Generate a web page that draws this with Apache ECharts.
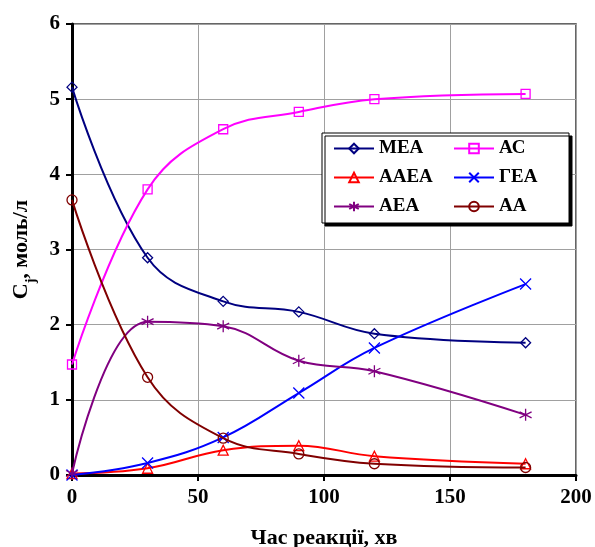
<!DOCTYPE html>
<html>
<head>
<meta charset="utf-8">
<script src="https://cdn.jsdelivr.net/npm/echarts@6/dist/echarts.min.js"></script>
<style>
  html, body { margin: 0; padding: 0; background: #fff; }
  #chart { width: 595px; height: 547px; }
</style>
</head>
<body>
<div id="chart"></div>
<script>
const time = [0, 30, 60, 90, 120, 180];

const mea = [5.16, 2.89, 2.31, 2.17, 1.88, 1.76];
const ac = [1.47, 3.80, 4.60, 4.83, 5.00, 5.07];
const aaea = [0.02, 0.09, 0.33, 0.39, 0.25, 0.15];
const gea = [0.00, 0.16, 0.50, 1.09, 1.69, 2.54];
const aea = [0.02, 2.04, 1.98, 1.52, 1.38, 0.80];
const aa = [3.66, 1.30, 0.49, 0.28, 0.15, 0.10];

const names = ['МЕА', 'АС', 'ААЕА', 'ГЕА', 'АЕА', 'АА'];
const colors = ['#000080', '#ff00ff', '#ff0000', '#0000ff', '#800080', '#800000'];

const crossPath = 'path://M0,0L10,10M10,0L0,10';
const starPath = 'path://M5,0L5,10M0.7,2.5L9.3,7.5M9.3,2.5L0.7,7.5';
const symbols = ['diamond', 'rect', 'triangle', crossPath, starPath, 'circle'];
const sizes = [10, 9, 10, 11, 12, 10];

const font = 'Liberation Serif';

const pairs = (ys) => time.map((t, i) => [t, ys[i]]);

const mkSeries = (name, ys, i) => ({
  name: name,
  type: 'line',
  data: pairs(ys),
  smooth: 0.4,
  symbol: symbols[i],
  symbolSize: sizes[i],
  color: colors[i],
  lineStyle: { color: colors[i], width: 2 },
  itemStyle: { color: 'rgba(255,255,255,0)', borderColor: colors[i], borderWidth: 1.3 },
  emphasis: { disabled: true },
  z: 3 + i,
});

const chart = echarts.init(document.getElementById('chart'));
chart.setOption({
  animation: false,
  backgroundColor: '#fff',
  grid: {
    left: 72,
    right: 19,
    top: 24,
    bottom: 72,
    show: true,
    borderColor: '#333',
    borderWidth: 1.5,
    containLabel: false,
    outerBoundsMode: 'none',
  },
  legend: {
    left: 322,
    top: 133,
    width: 260,
    padding: [6, 6, 7, 11],
    itemWidth: 40,
    itemHeight: 12,
    itemGap: 10,
    backgroundColor: '#fff',
    borderColor: '#000',
    borderWidth: 1,
    shadowColor: '#000',
    shadowBlur: 0,
    shadowOffsetX: 3,
    shadowOffsetY: 3,
    textStyle: {
      fontFamily: font,
      fontWeight: 'bold',
      fontSize: 19,
      color: '#000',
      width: 64,
      lineHeight: 18,
    },
    data: names,
  },
  xAxis: {
    type: 'value',
    min: 0,
    max: 200,
    interval: 50,
    name: 'Час реакції, хв',
    nameLocation: 'middle',
    nameGap: 52,
    nameTextStyle: { fontFamily: font, fontWeight: 'bold', fontSize: 22, color: '#000' },
    axisLine: { show: true, onZero: false, lineStyle: { color: '#000', width: 3 } },
    axisTick: { show: true, length: 6, lineStyle: { color: '#000', width: 2 } },
    axisLabel: { fontFamily: font, fontWeight: 'bold', fontSize: 21, color: '#000', margin: 12 },
    splitLine: { show: true, lineStyle: { color: '#a0a0a0', width: 1 } },
  },
  yAxis: {
    type: 'value',
    min: 0,
    max: 6,
    interval: 1,
    name: '{a|C}{b|j}{a|, моль/л}',
    nameLocation: 'middle',
    nameGap: 31,
    nameTextStyle: {
      color: '#000',
      rich: {
        a: { fontFamily: font, fontWeight: 'bold', fontSize: 22, color: '#000' },
        b: { fontFamily: font, fontWeight: 'bold', fontSize: 14, color: '#000', verticalAlign: 'bottom', padding: [0, 0, -6, 0] },
      },
    },
    axisLine: { show: true, lineStyle: { color: '#000', width: 3 } },
    axisTick: { show: true, length: 6, lineStyle: { color: '#000', width: 2 } },
    axisLabel: { fontFamily: font, fontWeight: 'bold', fontSize: 21, color: '#000', margin: 12 },
    splitLine: { show: true, lineStyle: { color: '#a0a0a0', width: 1 } },
  },
  series: [
    mkSeries(names[0], mea, 0),
    mkSeries(names[1], ac, 1),
    mkSeries(names[2], aaea, 2),
    mkSeries(names[3], gea, 3),
    mkSeries(names[4], aea, 4),
    mkSeries(names[5], aa, 5),
  ],
});
</script>
</body>
</html>
